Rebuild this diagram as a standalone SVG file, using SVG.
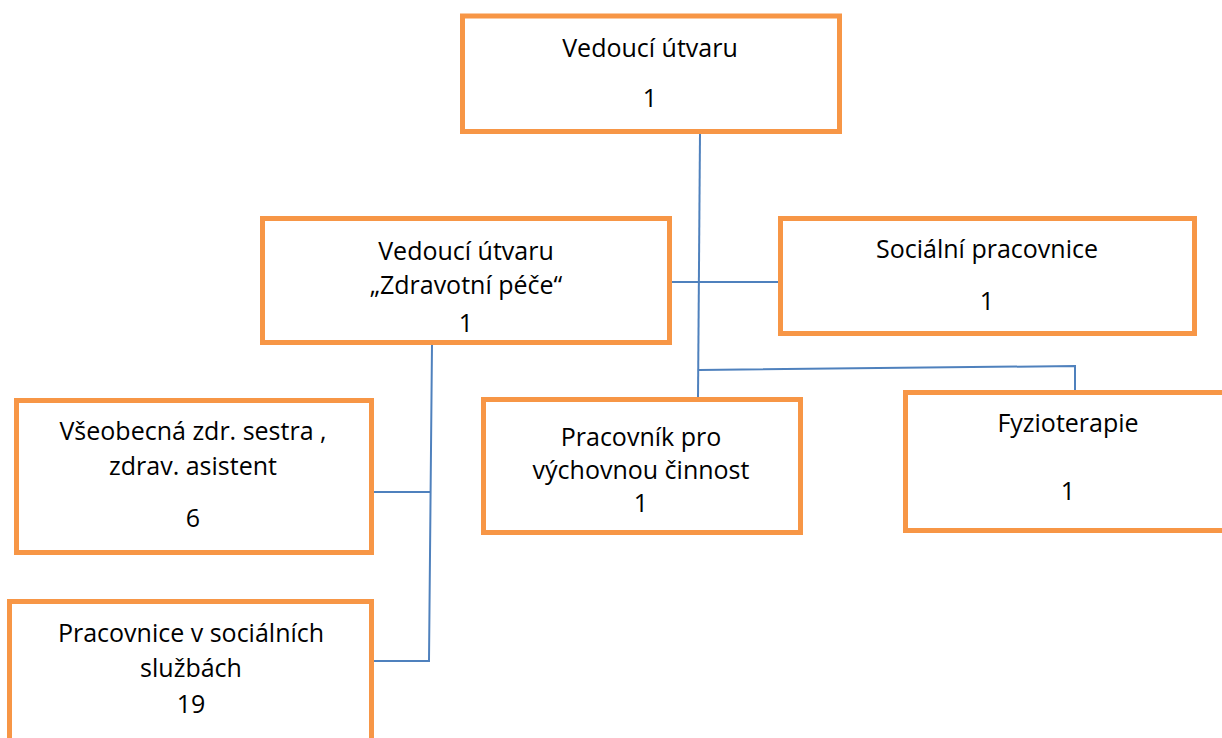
<svg xmlns="http://www.w3.org/2000/svg" width="1222" height="738" viewBox="0 0 1222 738">
<style>
.box{fill:#ffffff;stroke:#f79646;stroke-width:5}
.ln{fill:none;stroke:#4f81bd;stroke-width:2}
text{font-family:"Open Sans","Liberation Sans",sans-serif;font-size:25px;fill:#000;text-anchor:middle}
</style>
<rect width="1222" height="738" fill="#ffffff"/>
<g id="connectors">
<polyline class="ln" points="700,133 698,398"/>
<line class="ln" x1="671" y1="282" x2="779" y2="282"/>
<polyline class="ln" points="699,370 1075,366 1075,391"/>
<polyline class="ln" points="432,344 429,661 373,661"/>
<line class="ln" x1="373" y1="492" x2="431" y2="492"/>
</g>
<g id="n1">
<rect class="box" x="462.5" y="16" width="377" height="115.5"/>
<text x="650" y="57">Vedoucí útvaru</text>
<text x="650" y="107">1</text>
</g>
<g id="n2">
<rect class="box" x="262.5" y="218.5" width="407" height="124"/>
<text x="466" y="260">Vedoucí útvaru</text>
<text x="466" y="294">„Zdravotní péče“</text>
<text x="466" y="332">1</text>
</g>
<g id="n3">
<rect class="box" x="780.5" y="218.5" width="414" height="115"/>
<text x="987" y="258">Sociální pracovnice</text>
<text x="987" y="310">1</text>
</g>
<g id="n4">
<rect class="box" x="16.5" y="400.5" width="355" height="152"/>
<text x="193" y="440">Všeobecná zdr. sestra ,</text>
<text x="193" y="475">zdrav. asistent</text>
<text x="193" y="527">6</text>
</g>
<g id="n5">
<rect class="box" x="483.5" y="399.5" width="317" height="133"/>
<text x="641" y="446">Pracovník pro</text>
<text x="641" y="479">výchovnou činnost</text>
<text x="641" y="512">1</text>
</g>
<g id="n6">
<rect class="box" x="905.5" y="392.5" width="330" height="138"/>
<text x="1068" y="432">Fyzioterapie</text>
<text x="1068" y="500">1</text>
</g>
<g id="n7">
<rect class="box" x="9.5" y="601.5" width="362" height="150"/>
<text x="191" y="642">Pracovnice v sociálních</text>
<text x="191" y="677">službách</text>
<text x="191" y="713">19</text>
</g>
</svg>
